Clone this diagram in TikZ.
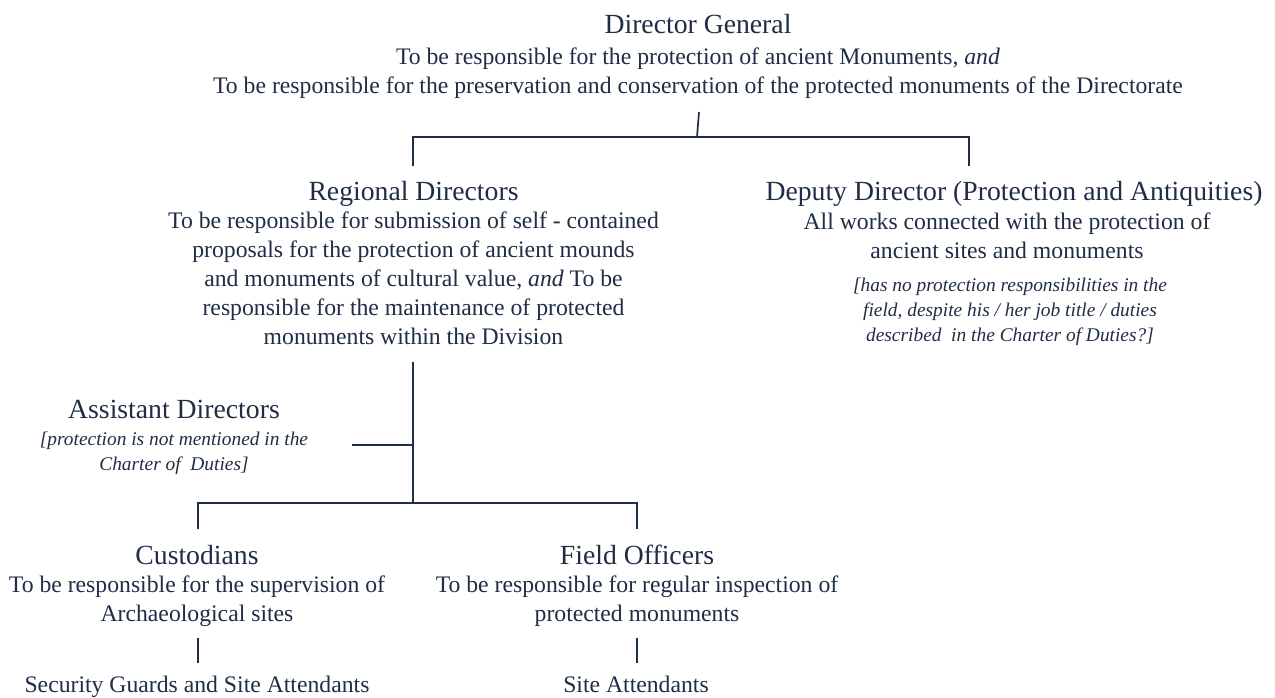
\documentclass[tikz,border=0pt]{standalone}
\usepackage{fontspec}
\setmainfont{Liberation Serif}
\definecolor{navy}{HTML}{1F2D45}
\begin{document}
\begin{tikzpicture}[x=1pt,y=-1pt,
  every node/.style={text=navy, inner sep=0pt, align=center},
  title/.style={font=\fontsize{27.7}{32}\selectfont},
  body/.style={font=\fontsize{23.7}{29}\selectfont},
  note/.style={font=\fontsize{19.4}{25}\selectfont\itshape},
  link/.style={draw=navy, line width=1.7pt}]
\useasboundingbox (0,0) rectangle (1275,697);
% Director General
\node[title] (dg) at (698,24.5) {Director General};
\node[body] (dgb) at (698,73) {To be responsible for the protection of ancient Monuments, \textit{and}\\
To be responsible for the preservation and conservation of the protected monuments of the Directorate};
% Regional Directors
\node[title] (rd) at (413.5,194) {Regional Directors};
\node[body] (rdb) at (413.5,278.5) {To be responsible for submission of self - contained\\
proposals for the protection of ancient mounds\\
and monuments of cultural value, \textit{and} To be\\
responsible for the maintenance of protected\\
monuments within the Division};
% Deputy Director
\node[title] (dd) at (1014,194) {Deputy Director (Protection and Antiquities)};
\node[body] (ddb) at (1007,236) {All works connected with the protection of\\ancient sites and monuments};
\node[note] (ddn) at (1010,312) {[has no protection responsibilities in the\\field, despite his / her job title / duties\\described\ \ in the Charter of Duties?]};
% Assistant Directors
\node[title] (ad) at (174,409) {Assistant Directors};
\node[note] (adn) at (174,453.7) {[protection is not mentioned in the\\Charter of\ \ Duties]};
% Custodians
\node[title] (cu) at (197,555) {Custodians};
\node[body] (cub) at (197,601.5) {To be responsible for the supervision of\\Archaeological sites};
\node[body] (sg) at (197,687) {Security Guards and Site Attendants};
% Field Officers
\node[title] (fo) at (637,555) {Field Officers};
\node[body] (fob) at (637,601.5) {To be responsible for regular inspection of\\protected monuments};
\node[body] (sa) at (636,684.5) {Site Attendants};
% junctions
\coordinate (dgout) at (699,112);
\coordinate (j1) at (697,137);
\coordinate (rdin) at (413,166);
\coordinate (ddin) at (969,166);
\coordinate (rdout) at (413,362);
\coordinate (j2) at (413,445);
\coordinate (adin) at (352,445);
\coordinate (j3) at (413,503);
\coordinate (cuin) at (198,529);
\coordinate (foin) at (637,529);
\coordinate (cuout) at (198,638);
\coordinate (sgin) at (198,663);
\coordinate (foout) at (637,638);
\coordinate (sain) at (637,663);
% connectors
\draw[link] (dgout) -- (j1);
\draw[link] (rdin) |- (j1) -| (ddin);
\draw[link] (rdout) -- (j2) -- (j3);
\draw[link] (j2) -- (adin);
\draw[link] (cuin) |- (j3) -| (foin);
\draw[link] (cuout) -- (sgin);
\draw[link] (foout) -- (sain);
\end{tikzpicture}
\end{document}
